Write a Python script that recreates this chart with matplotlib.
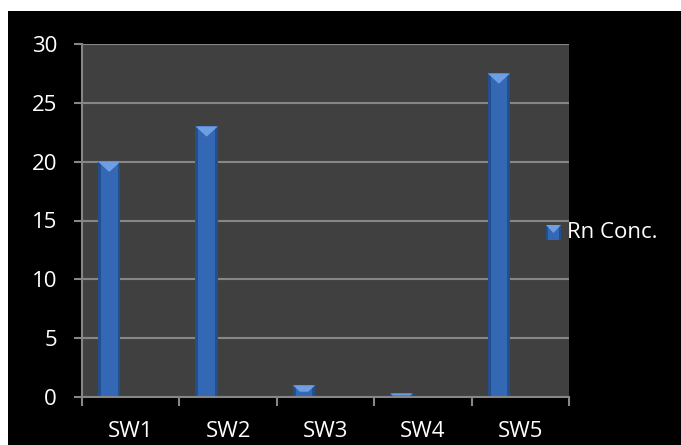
import matplotlib
matplotlib.use("Agg")
import matplotlib.pyplot as plt
from matplotlib.patches import Rectangle, Polygon

# Radon concentration per sampling site
categories = ["SW1", "SW2", "SW3", "SW4", "SW5"]
rn_conc = [20.0, 23.0, 1.0, 0.3, 27.5]
series_name = "Rn Conc."
y_ticks = [0, 5, 10, 15, 20, 25, 30]

W, H, DPI = 681, 445, 100
fig = plt.figure(figsize=(W / DPI, H / DPI), dpi=DPI, facecolor="white")
plt.rcParams["font.family"] = ["Open Sans", "DejaVu Sans"]
FS = 16

# black chart canvas inside a thin white margin
fig.patches.append(Rectangle((8 / W, 0), 1, (H - 11) / H, transform=fig.transFigure,
                             facecolor="black", edgecolor="none", zorder=-10))

ax = fig.add_axes([82 / W, (H - 397) / H, (569 - 82) / W, (397 - 44) / H])
ax.set_facecolor("#404040")

grid_c = "#868686"
ax.set_ylim(0, 30)
ax.set_xlim(-0.5, len(categories) - 0.5)
ax.set_yticks(y_ticks)
ax.yaxis.grid(True, color=grid_c, linewidth=1.5, zorder=1)
ax.set_axisbelow(True)

for s in ["top", "right"]:
    ax.spines[s].set_visible(False)
for s in ["left", "bottom"]:
    ax.spines[s].set_color(grid_c)
    ax.spines[s].set_linewidth(1.5)
    ax.spines[s].set_zorder(4)

# category ticks sit on the boundaries between columns
ax.set_xticks([i - 0.5 for i in range(len(categories) + 1)], minor=False)
ax.set_xticklabels([])
ax.set_xticks(range(len(categories)), minor=True)
ax.set_xticklabels(categories, minor=True)
ax.tick_params(axis="x", which="major", length=6.5, width=1.5, color=grid_c)
ax.tick_params(axis="x", which="minor", length=0, pad=17, labelcolor="white", labelsize=FS)
ax.tick_params(axis="y", length=6, width=1.5, color=grid_c, pad=12,
               labelcolor="white", labelsize=FS)

# bevelled columns
offset, width = -0.22, 0.23
edge_c, body_c, light_c = "#22508f", "#3568b4", "#6e9fe4"
x_pos = [i + offset for i in range(len(categories))]
ax.bar(x_pos, rn_conc, width=width, color=edge_c, zorder=3)
ax.bar(x_pos, rn_conc, width=width * 0.74, color=body_c, zorder=3)
for xc, v in zip(x_pos, rn_conc):
    x0, x1 = xc - width / 2, xc + width / 2
    depth = min(0.85, v * 0.55)
    inset = (width / 2) * min(1.0, depth / 0.85) * 0.97
    ax.add_patch(Polygon([(x0, v), (x1, v), (x1 - inset, v - depth), (x0 + inset, v - depth)],
                         closed=True, facecolor=light_c, edgecolor="none", zorder=3.5))

# legend entry: bevelled square key and label, placed in pixel coordinates
def fx(x): return x / W
def fy(y): return (H - y) / H
kx0, kx1, ky0, ky1 = 546, 561, 225, 240
fig.add_artist(Rectangle((fx(kx0), fy(ky1)), fx(kx1) - fx(kx0), fy(ky0) - fy(ky1),
                         transform=fig.transFigure, facecolor=edge_c, edgecolor="none"))
fig.add_artist(Rectangle((fx(kx0 + 2), fy(ky1)), fx(kx1 - 2) - fx(kx0 + 2), fy(ky0) - fy(ky1),
                         transform=fig.transFigure, facecolor=body_c, edgecolor="none"))
fig.add_artist(Polygon([(fx(kx0), fy(ky0)), (fx(kx1), fy(ky0)), (fx((kx0 + kx1) / 2), fy(ky0 + 8))],
                       closed=True, transform=fig.transFigure, facecolor=light_c, edgecolor="none"))
fig.text(fx(567), fy(232.5), series_name, color="white", fontsize=FS, va="center", ha="left")

fig.savefig("out.png", dpi=DPI, facecolor=fig.get_facecolor())
